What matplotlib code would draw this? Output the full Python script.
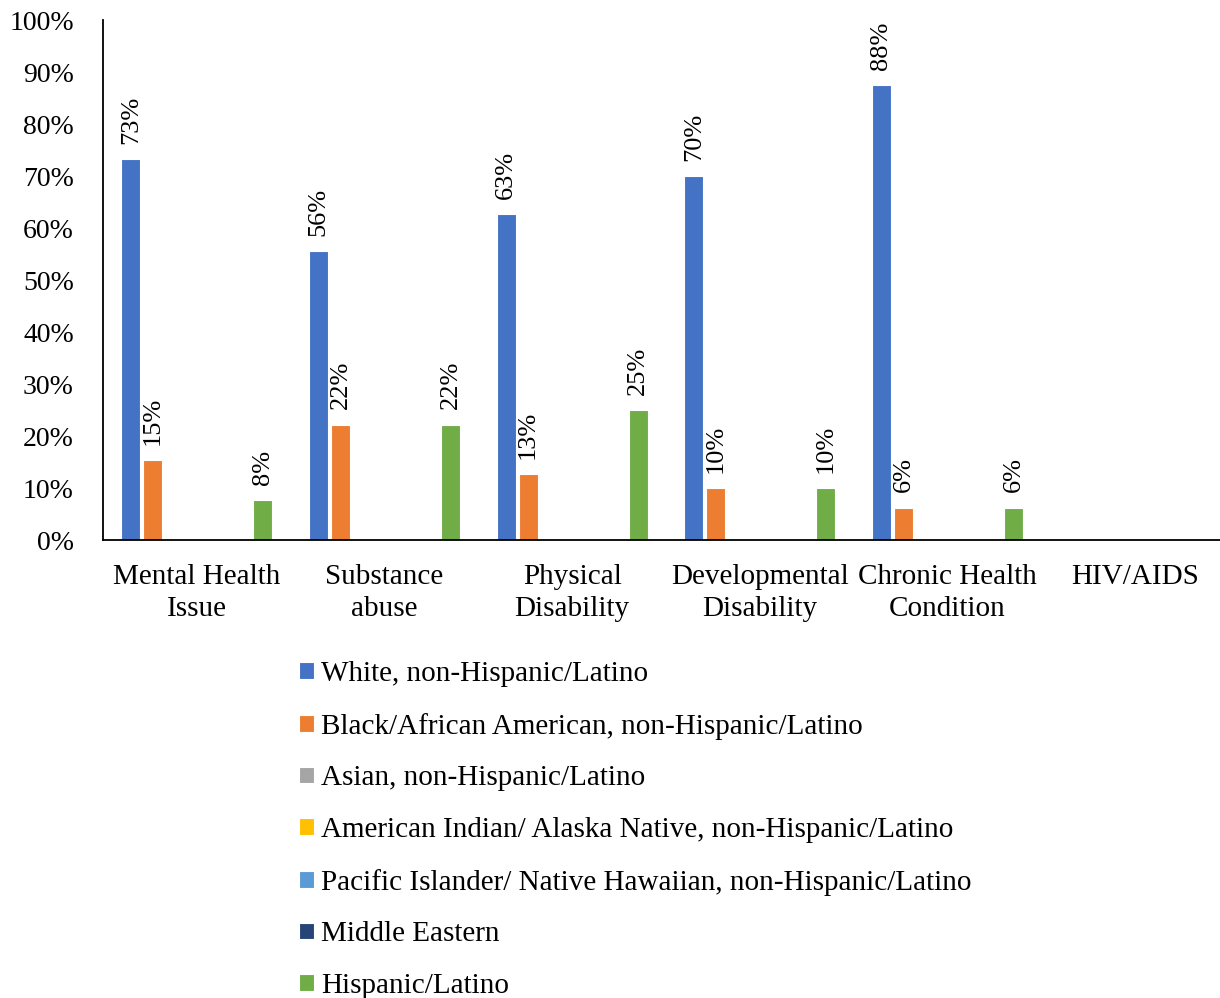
import numpy as np
import matplotlib.pyplot as plt

# Categories and series
categories = ["Mental Health\nIssue", "Substance\nabuse", "Physical\nDisability",
              "Developmental\nDisability", "Chronic Health\nCondition", "HIV/AIDS"]
series_names = ["White, non-Hispanic/Latino",
                "Black/African American, non-Hispanic/Latino",
                "Asian, non-Hispanic/Latino",
                "American Indian/ Alaska Native, non-Hispanic/Latino",
                "Pacific Islander/ Native Hawaiian, non-Hispanic/Latino",
                "Middle Eastern",
                "Hispanic/Latino"]
white = [73.3, 55.6, 62.6, 70.0, 87.5, 0]
black = [15.4, 22.2, 12.6, 10.0, 6.25, 0]
asian = [0, 0, 0, 0, 0, 0]
am_indian = [0, 0, 0, 0, 0, 0]
pacific = [0, 0, 0, 0, 0, 0]
middle_eastern = [0, 0, 0, 0, 0, 0]
hispanic = [7.7, 22.2, 25.0, 10.0, 6.25, 0]
colors = ["#4472C4", "#ED7D31", "#A5A5A5", "#FFC000", "#5B9BD5", "#264478", "#70AD47"]

all_series = [white, black, asian, am_indian, pacific, middle_eastern, hispanic]

plt.rcParams['font.family'] = ['Liberation Serif', 'DejaVu Serif']

fig = plt.figure(figsize=(12.2, 9.98), dpi=100)
ax = fig.add_axes([103 / 1220, 1 - 540 / 998, 1 - 103 / 1220, 520 / 998])

x = np.arange(len(categories))
slot = 0.1173
width = 0.1
for i, (vals, name, c) in enumerate(zip(all_series, series_names, colors)):
    pos = x + (i - 3) * slot
    bars = ax.bar(pos, vals, width, color=c, edgecolor='white', linewidth=0.8, label=name)
    for b, v in zip(bars, vals):
        if v > 0:
            ax.annotate(f"{v:.0f}%", (b.get_x() + b.get_width() / 2, v),
                        xytext=(0, 11), textcoords='offset points',
                        rotation=90, ha='center', va='bottom', fontsize=19)

ax.set_xlim(-0.5, 5.452)
ax.set_ylim(0, 100)
ax.set_yticks(np.arange(0, 101, 10))
ax.set_yticklabels([f"{t}%" for t in range(0, 101, 10)], fontsize=20)
ax.set_xticks(x)
ax.set_xticklabels(categories, fontsize=21, linespacing=1.3)
ax.tick_params(axis='both', length=0)
ax.tick_params(axis='y', pad=21)
ax.tick_params(axis='x', pad=17)
for s in ['top', 'right']:
    ax.spines[s].set_visible(False)
ax.spines['left'].set_linewidth(1.3)
ax.spines['bottom'].set_linewidth(1.3)

handles, labels = ax.get_legend_handles_labels()
fig.legend(handles, labels, loc='upper left', bbox_to_anchor=(299 / 1220, 1 - 661 / 998),
           ncol=1, frameon=False, fontsize=21, handlelength=0.5, handleheight=0.5,
           handletextpad=0.25, labelspacing=0.88, borderpad=0, borderaxespad=0)

fig.savefig("out.png", dpi=100)
